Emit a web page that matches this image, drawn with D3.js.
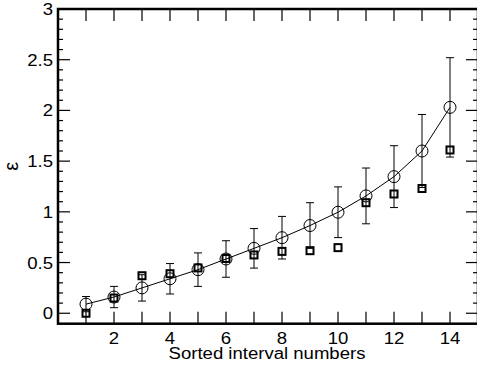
<!DOCTYPE html>
<html>
<head>
<meta charset="utf-8">
<script src="https://cdn.jsdelivr.net/npm/d3@7"></script>
<style>
  body { margin: 0; background: #fff; }
  svg text { font-family: "Liberation Sans", Arial, Helvetica, sans-serif; fill: #000; }
</style>
</head>
<body>
<svg id="chart" width="477" height="368"></svg>
<script>
// values
var intervals = [1, 2, 3, 4, 5, 6, 7, 8, 9, 10, 11, 12, 13, 14];
var circleValues = [0.09, 0.16, 0.25, 0.34, 0.43, 0.535, 0.64, 0.745, 0.865, 0.996, 1.157, 1.347, 1.60, 2.03];
var circleErrors = [0.075, 0.105, 0.13, 0.15, 0.165, 0.18, 0.195, 0.21, 0.225, 0.25, 0.275, 0.305, 0.36, 0.49];
var squareValues = [0.0, 0.15, 0.37, 0.39, 0.447, 0.54, 0.575, 0.61, 0.617, 0.647, 1.09, 1.176, 1.23, 1.61];
var xTickLabels = [2, 4, 6, 8, 10, 12, 14];
var yTickLabels = [0, 0.5, 1, 1.5, 2, 2.5, 3];

var svg = d3.select('#chart');

var x = d3.scaleLinear().domain([0, 15]).range([58, 478]);
var y = d3.scaleLinear().domain([-0.103, 3]).range([323.7, 9]);

var plotLeft = x(0), plotRight = x(15), plotTop = y(3), plotBottom = y(-0.103);
var stretch = 1.16; // the reference font is a bit wider than Arial

/** ticks **/
var tickGroup = svg.append('g').attr('stroke', '#000').attr('stroke-width', 1.2);

// x ticks, inward on bottom and top
tickGroup.selectAll('.xtick-b').data(intervals).enter()
    .append('line')
    .attr('x1', function(d) { return x(d); })
    .attr('x2', function(d) { return x(d); })
    .attr('y1', plotBottom)
    .attr('y2', plotBottom - 12);
tickGroup.selectAll('.xtick-t').data(intervals).enter()
    .append('line')
    .attr('x1', function(d) { return x(d); })
    .attr('x2', function(d) { return x(d); })
    .attr('y1', plotTop)
    .attr('y2', plotTop + 12);

// y ticks, every 0.1, major every 0.5
var yTicks = d3.range(0, 31).map(function(i) { return i / 10; });
function tickLen(d) {
    return (Math.round(d * 10) % 5 === 0) ? 12 : 5;
}
tickGroup.selectAll('.ytick-l').data(yTicks).enter()
    .append('line')
    .attr('x1', plotLeft)
    .attr('x2', function(d) { return plotLeft + tickLen(d); })
    .attr('y1', function(d) { return y(d); })
    .attr('y2', function(d) { return y(d); });
tickGroup.selectAll('.ytick-r').data(yTicks).enter()
    .append('line')
    .attr('x1', plotRight)
    .attr('x2', function(d) { return plotRight - tickLen(d); })
    .attr('y1', function(d) { return y(d); })
    .attr('y2', function(d) { return y(d); });

// frame
svg.append('rect')
    .attr('x', plotLeft)
    .attr('y', plotTop)
    .attr('width', plotRight - plotLeft)
    .attr('height', plotBottom - plotTop)
    .attr('fill', 'none')
    .attr('stroke', '#000')
    .attr('stroke-width', 2.5);

/** tick labels **/
svg.selectAll('.xlabel').data(xTickLabels).enter()
    .append('text')
    .text(function(d) { return d; })
    .attr('text-anchor', 'middle')
    .attr('font-size', '16px')
    .attr('transform', function(d) {
        return 'translate(' + x(d) + ',344) scale(' + stretch + ',1)';
    });

svg.selectAll('.ylabel').data(yTickLabels).enter()
    .append('text')
    .text(function(d) { return d; })
    .attr('text-anchor', 'end')
    .attr('font-size', '16px')
    .attr('transform', function(d) {
        return 'translate(53,' + (y(d) + 6) + ') scale(' + stretch + ',1)';
    });

svg.append('text')
    .text('Sorted interval numbers')
    .attr('text-anchor', 'middle')
    .attr('font-size', '16px')
    .attr('transform', 'translate(' + ((plotLeft + plotRight) / 2 - 1) + ',359) scale(' + stretch + ',1)');

svg.append('text')
    .text('ε')
    .attr('text-anchor', 'middle')
    .attr('font-size', '20px')
    .attr('transform', 'translate(18,' + ((plotTop + plotBottom) / 2) + ') rotate(-90)');

/** data **/
var rows = intervals.map(function(d, i) {
    return {x: d, c: circleValues[i], e: circleErrors[i], s: squareValues[i]};
});

var err = svg.append('g').attr('stroke', '#000').attr('stroke-width', 1);
err.selectAll('.ebar').data(rows).enter()
    .append('line')
    .attr('x1', function(d) { return x(d.x); })
    .attr('x2', function(d) { return x(d.x); })
    .attr('y1', function(d) { return y(d.c - d.e); })
    .attr('y2', function(d) { return y(d.c + d.e); });
err.selectAll('.ecap-hi').data(rows).enter()
    .append('line')
    .attr('x1', function(d) { return x(d.x) - 4; })
    .attr('x2', function(d) { return x(d.x) + 4; })
    .attr('y1', function(d) { return y(d.c + d.e); })
    .attr('y2', function(d) { return y(d.c + d.e); });
err.selectAll('.ecap-lo').data(rows).enter()
    .append('line')
    .attr('x1', function(d) { return x(d.x) - 4; })
    .attr('x2', function(d) { return x(d.x) + 4; })
    .attr('y1', function(d) { return y(d.c - d.e); })
    .attr('y2', function(d) { return y(d.c - d.e); });

var line = d3.line()
    .x(function(d) { return x(d.x); })
    .y(function(d) { return y(d.c); });

svg.append('path')
    .datum(rows)
    .attr('d', line)
    .attr('fill', 'none')
    .attr('stroke', '#000')
    .attr('stroke-width', 1);

svg.selectAll('.circ').data(rows).enter()
    .append('circle')
    .attr('cx', function(d) { return x(d.x); })
    .attr('cy', function(d) { return y(d.c); })
    .attr('r', 6)
    .attr('fill', 'none')
    .attr('stroke', '#000')
    .attr('stroke-width', 1);

svg.selectAll('.sq').data(rows).enter()
    .append('rect')
    .attr('x', function(d) { return x(d.x) - 3.5; })
    .attr('y', function(d) { return y(d.s) - 3.5; })
    .attr('width', 7)
    .attr('height', 7)
    .attr('fill', 'none')
    .attr('stroke', '#000')
    .attr('stroke-width', 2);
</script>
</body>
</html>
